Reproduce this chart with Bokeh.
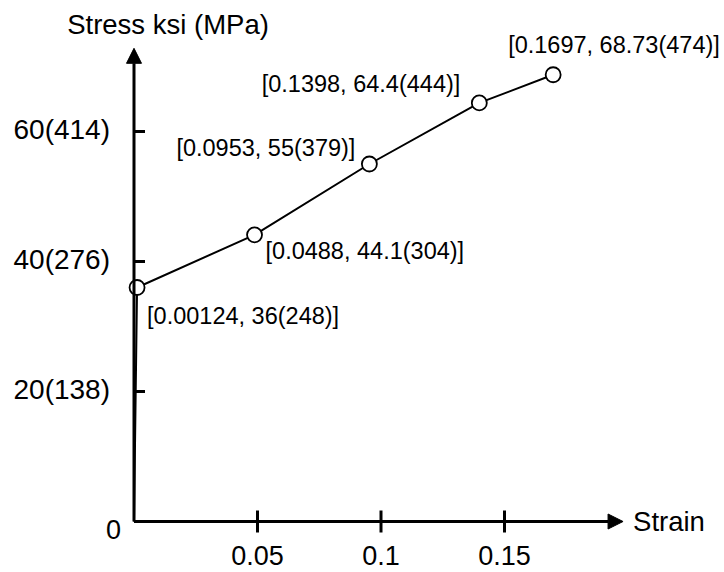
from bokeh.plotting import figure
from bokeh.models import Range1d, Arrow, NormalHead, ColumnDataSource
from bokeh.core.properties import value
from bokeh.embed import file_html
from bokeh.resources import INLINE

# ---- data ----
STRAIN = [0.00124, 0.0488, 0.0953, 0.1398, 0.1697]
STRESS = [36, 44.1, 55, 64.4, 68.73]
POINT_LABELS = ["[0.00124, 36(248)]", "[0.0488, 44.1(304)]", "[0.0953, 55(379)]",
                "[0.1398, 64.4(444)]", "[0.1697, 68.73(474)]"]
ORIGIN_X = [0.0]
ORIGIN_Y = [0.0]
X_TICKS = [0.05, 0.1, 0.15]
X_TICK_LABELS = ["0.05", "0.1", "0.15"]
Y_TICKS = [20, 40, 60]
Y_TICK_LABELS = ["20(138)", "40(276)", "60(414)"]
X_AXIS_END = 0.198
Y_AXIS_END = 72.8

# ---- layout / style ----
W, H = 724, 572
PX_X = 2470.0   # pixels per unit strain
PX_Y = 6.5      # pixels per ksi
ORIGIN_PX_X = 133.5
ORIGIN_PX_Y = 521.0
FONT = value("Liberation Sans")
LABEL_XOFF = [10, 11, -14, -19, -45]
LABEL_YOFF = [28, 16, -16, -19, -30]
LABEL_ALIGN = ["left", "left", "right", "right", "left"]

x0 = -ORIGIN_PX_X / PX_X
x1 = (W - ORIGIN_PX_X) / PX_X
y1 = ORIGIN_PX_Y / PX_Y
y0 = (ORIGIN_PX_Y - H) / PX_Y

p = figure(width=W, height=H, output_backend="svg", toolbar_location=None,
           x_axis_location=None, y_axis_location=None,
           x_range=Range1d(x0, x1), y_range=Range1d(y0, y1),
           min_border=0, outline_line_color=None)
p.grid.visible = False
p.background_fill_color = "white"
p.border_fill_color = "white"

# axes with arrowheads
p.add_layout(Arrow(end=NormalHead(size=15, fill_color="black", line_color="black", line_width=1),
                   x_start=0, y_start=0, x_end=X_AXIS_END, y_end=0,
                   line_width=3, line_color="black"))
p.add_layout(Arrow(end=NormalHead(size=15, fill_color="black", line_color="black", line_width=1),
                   x_start=0, y_start=0, x_end=0, y_end=Y_AXIS_END,
                   line_width=3, line_color="black"))

# ticks
p.segment(x0=X_TICKS, x1=X_TICKS, y0=[-11 / PX_Y] * len(X_TICKS), y1=[11 / PX_Y] * len(X_TICKS),
          line_width=3, line_color="black")
p.segment(x0=[0] * len(Y_TICKS), x1=[11 / PX_X] * len(Y_TICKS), y0=Y_TICKS, y1=Y_TICKS,
          line_width=3, line_color="black")

# tick labels
p.text(x=X_TICKS, y=[0] * len(X_TICKS), text=X_TICK_LABELS, text_font=FONT,
       text_font_size="27px", text_align="center", text_baseline="middle",
       y_offset=34, text_color="black")
p.text(x=[0] * len(Y_TICKS), y=Y_TICKS, text=Y_TICK_LABELS, text_font=FONT,
       text_font_size="28px", text_align="right", text_baseline="middle",
       x_offset=-24, y_offset=-2, text_color="black")
p.text(x=ORIGIN_X, y=ORIGIN_Y, text=["0"], text_font=FONT, text_font_size="27px",
       text_align="right", text_baseline="middle", x_offset=-13, y_offset=8,
       text_color="black")

# axis titles
p.text(x=[X_AXIS_END], y=[0], text=["Strain"], text_font=FONT, text_font_size="27.5px",
       text_align="left", text_baseline="middle", x_offset=10, y_offset=0,
       text_color="black")
p.text(x=[0], y=[Y_AXIS_END], text=["Stress ksi (MPa)"], text_font=FONT,
       text_font_size="27.5px", text_align="center", text_baseline="middle",
       x_offset=34, y_offset=-24, text_color="black")

# data curve
p.line(x=ORIGIN_X + STRAIN, y=ORIGIN_Y + STRESS, line_width=2, line_color="black")
p.scatter(x=STRAIN, y=STRESS, size=15, marker="circle", fill_color="white",
          line_color="black", line_width=1.8)

src = ColumnDataSource(dict(x=STRAIN, y=STRESS, t=POINT_LABELS,
                            xo=LABEL_XOFF, yo=LABEL_YOFF, al=LABEL_ALIGN))
p.text(x="x", y="y", text="t", source=src, x_offset="xo", y_offset="yo",
       text_align="al", text_baseline="middle", text_font=FONT,
       text_font_size="23.5px", text_color="black")

open("out.html", "w").write(file_html(p, INLINE))
